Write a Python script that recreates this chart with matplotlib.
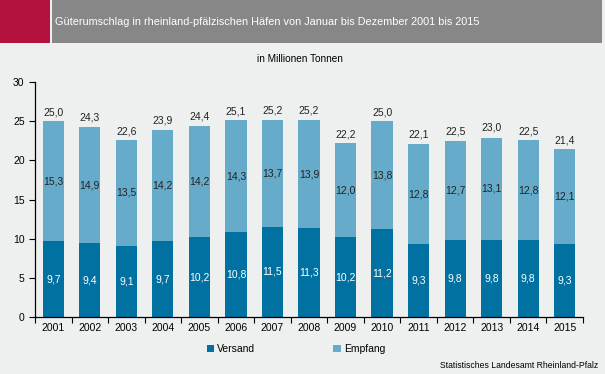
import numpy as np
import matplotlib.pyplot as plt
from matplotlib.patches import Rectangle

plt.rcParams['font.family'] = ['Liberation Sans', 'DejaVu Sans']

years = ['2001', '2002', '2003', '2004', '2005', '2006', '2007', '2008',
         '2009', '2010', '2011', '2012', '2013', '2014', '2015']
versand = [9.7, 9.4, 9.1, 9.7, 10.2, 10.8, 11.5, 11.3, 10.2, 11.2, 9.3, 9.8, 9.8, 9.8, 9.3]
empfang = [15.3, 14.9, 13.5, 14.2, 14.2, 14.3, 13.7, 13.9, 12.0, 13.8, 12.8, 12.7, 13.1, 12.8, 12.1]
gesamt = [25.0, 24.3, 22.6, 23.9, 24.4, 25.1, 25.2, 25.2, 22.2, 25.0, 22.1, 22.5, 23.0, 22.5, 21.4]

c_versand = '#0071A1'
c_empfang = '#66ABC9'
bg = '#EEEFEF'

def fmt(v):
    return ('%.1f' % v).replace('.', ',')

fig = plt.figure(figsize=(6.05, 3.74), dpi=100, facecolor=bg)

# header
fig.patches.append(Rectangle((0, 1 - 43/374), 50/605, 43/374, transform=fig.transFigure,
                             facecolor='#B3123F', edgecolor='none'))
fig.patches.append(Rectangle((52/605, 1 - 43/374), 550/605, 43/374, transform=fig.transFigure,
                             facecolor='#878787', edgecolor='none'))
fig.text(55/605, 1 - 22/374, 'Güterumschlag in rheinland-pfälzischen Häfen von Januar bis Dezember 2001 bis 2015',
         color='white', fontsize=7.8, va='center', ha='left')
fig.text(300/605, 1 - 59/374, 'in Millionen Tonnen', fontsize=7.2, ha='center', va='center')

ax = fig.add_axes([35/605, 1 - 317/374, 548/605, 235/374])
ax.set_facecolor(bg)
x = np.arange(len(years))
w = 0.58
b1 = ax.bar(x, versand, w, color=c_versand, label='Versand')
b2 = ax.bar(x, empfang, w, bottom=versand, color=c_empfang, label='Empfang')

for i in range(len(years)):
    ax.text(x[i], versand[i] / 2, fmt(versand[i]), color='white', ha='center', va='center', fontsize=7.5)
    ax.text(x[i], versand[i] + empfang[i] / 2, fmt(empfang[i]), color='#222222', ha='center', va='center', fontsize=7.5)
    ax.text(x[i], gesamt[i] + 0.5, fmt(gesamt[i]), color='#222222', ha='center', va='bottom', fontsize=7.5)

ax.set_xlim(-0.5, len(years) - 0.5)
ax.set_ylim(0, 30)
ax.set_yticks(range(0, 31, 5))
ax.set_xticks(x)
ax.set_xticklabels(years)
ax.set_xticks(np.arange(-0.5, len(years), 1), minor=True)
ax.tick_params(axis='x', which='major', length=0, labelsize=7.5, pad=4)
ax.tick_params(axis='x', which='minor', length=4, width=0.8, direction='out')
ax.tick_params(axis='y', length=4, width=0.8, direction='out', labelsize=7.5)
for s in ['top', 'right']:
    ax.spines[s].set_visible(False)
ax.spines['left'].set_linewidth(0.9)
ax.spines['bottom'].set_linewidth(0.9)

fig.legend(handles=[b1, b2], loc='center', bbox_to_anchor=(296/605, 1 - 349/374), ncol=2,
           frameon=False, fontsize=7.5, handlelength=0.7, handleheight=0.7,
           handletextpad=0.3, columnspacing=7.5)
fig.text(598/605, 1 - 366/374, 'Statistisches Landesamt Rheinland-Pfalz', fontsize=6.2,
         ha='right', va='center')

fig.savefig('out.png', dpi=100, facecolor=bg)
